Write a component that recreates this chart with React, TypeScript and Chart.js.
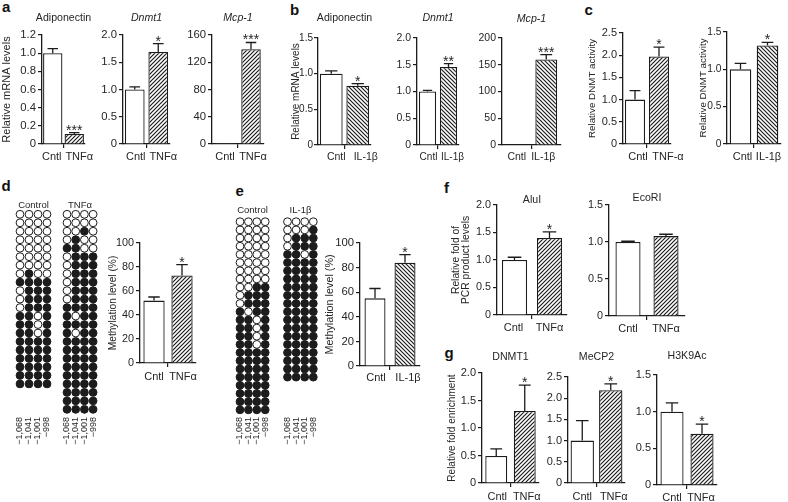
import React, { useEffect, useRef } from "react";
import { Chart, registerables } from "chart.js";

Chart.register(...registerables);

const FONT = "'Liberation Sans', Arial, Helvetica, sans-serif";
const INK = "#1c1c1c";
const TEXT = "#262626";

// ---------------- data ----------------
const CAT_TNF = ["Cntl", "TNFα"];
const CAT_TNF_DASH = ["Cntl", "TNF-α"];
const CAT_IL = ["Cntl", "IL-1β"];

const A_ADIPONECTIN = [1.0, 0.11];
const A_ADIPONECTIN_SEM = [0.05, 0.015];
const A_ADIPONECTIN_SIG = ["", "***"];
const A_DNMT1 = [1.0, 1.69];
const A_DNMT1_SEM = [0.05, 0.15];
const A_DNMT1_SIG = ["", "*"];
const A_MCP1 = [1.0, 139];
const A_MCP1_SEM = [0.4, 10];
const A_MCP1_SIG = ["", "***"];

const B_ADIPONECTIN = [1.0, 0.83];
const B_ADIPONECTIN_SEM = [0.04, 0.03];
const B_ADIPONECTIN_SIG = ["", "*"];
const B_DNMT1 = [1.0, 1.46];
const B_DNMT1_SEM = [0.02, 0.06];
const B_DNMT1_SIG = ["", "**"];
const B_MCP1 = [1.0, 160];
const B_MCP1_SEM = [0.4, 9];
const B_MCP1_SIG = ["", "***"];

const C_TNF = [1.0, 1.97];
const C_TNF_SEM = [0.2, 0.21];
const C_TNF_SIG = ["", "*"];
const C_IL = [1.0, 1.32];
const C_IL_SEM = [0.08, 0.04];
const C_IL_SIG = ["", "*"];

const D_METHYL = [52, 73];
const D_METHYL_SEM = [3, 9];
const D_METHYL_SIG = ["", "*"];
const E_METHYL = [55, 84];
const E_METHYL_SEM = [8, 6.5];
const E_METHYL_SIG = ["", "*"];

const F_ALUI = [1.0, 1.4];
const F_ALUI_SEM = [0.05, 0.11];
const F_ALUI_SIG = ["", "*"];
const F_ECORI = [1.0, 1.08];
const F_ECORI_SEM = [0.01, 0.025];
const F_ECORI_SIG = ["", ""];

const G_DNMT1 = [0.49, 1.31];
const G_DNMT1_SEM = [0.13, 0.47];
const G_DNMT1_SIG = ["", "*"];
const G_MECP2 = [1.0, 2.19];
const G_MECP2_SEM = [0.47, 0.15];
const G_MECP2_SIG = ["", "*"];
const G_H3K9AC = [1.0, 0.7];
const G_H3K9AC_SEM = [0.12, 0.13];
const G_H3K9AC_SIG = ["", "*"];

// bisulfite sequencing clones: 1 = methylated CpG, 0 = unmethylated
const CPG_SITES = ["−1,068", "−1,041", "−1,001", "−998"];
const D_CONTROL_CLONES = [
  "0000", "0000", "0000", "0000", "0000", "0000", "0000", "0100",
  "1111", "0111", "0111", "0111", "1101", "1101", "1101", "1111",
  "1111", "1111", "1111", "1111", "1111",
];
const D_TNF_CLONES = [
  "0000", "0000", "0010", "0100", "1100", "0111", "0111", "0111",
  "0111", "0111", "0111", "1111", "1011", "1111", "1011", "1111",
  "1111", "1111", "1111", "1111", "1111", "1111", "1111", "1111",
];
const E_CONTROL_CLONES = [
  "0000", "0000", "0000", "0000", "0000", "0000", "0000", "0000",
  "0011", "0111", "0111", "1011", "1101", "1101", "1101", "1101",
  "1111", "1111", "1111", "1111", "1111", "1111", "1111", "1111",
];
const E_IL_CLONES = [
  "0000", "0001", "0111", "0111", "1101", "1111", "1111", "1111",
  "1111", "1111", "1111", "1111", "1111", "1111", "1111", "1111",
  "1111", "1111", "1111", "1111",
];

// ---------------- layout specs ----------------
type BarSpec = {
  x0: number; x1: number; y0: number; y1: number;
  max: number; step: number; dec: number;
  labels: string[]; values: number[]; errors: number[]; stars: string[];
  hatch: "/" | "\\"; barFrac: number;
  title?: string; titleY?: number; italic?: boolean;
  yTitle?: string | string[]; yTitleX?: number; yTitleSize?: number; yTitleLH?: number;
  tickSize?: number; tickPad?: number; catSize?: number; shift?: number[]; labelDy?: number;
};

const BAR_PANELS: BarSpec[] = [
  { x0: 42, x1: 85, y0: 35, y1: 144, max: 1.2, step: 0.2, dec: 1, labels: CAT_TNF, values: A_ADIPONECTIN, errors: A_ADIPONECTIN_SEM, stars: A_ADIPONECTIN_SIG, hatch: "/", barFrac: 0.9, title: "Adiponectin", titleY: 18, yTitle: "Relative mRNA levels", yTitleX: 7, yTitleSize: 11, tickSize: 11.3, shift: [-1, 5] },
  { x0: 123, x1: 170, y0: 35, y1: 144, max: 2.0, step: 0.5, dec: 1, labels: CAT_TNF, values: A_DNMT1, errors: A_DNMT1_SEM, stars: A_DNMT1_SIG, hatch: "/", barFrac: 0.84, title: "Dnmt1", titleY: 18, italic: true, tickSize: 11.3, shift: [1, 5] },
  { x0: 212, x1: 264, y0: 35, y1: 144, max: 160, step: 40, dec: 0, labels: CAT_TNF, values: A_MCP1, errors: A_MCP1_SEM, stars: A_MCP1_SIG, hatch: "/", barFrac: 0.75, title: "Mcp-1", titleY: 18, italic: true, tickSize: 11.3, shift: [0, 2] },
  { x0: 318, x1: 371, y0: 38, y1: 145, max: 1.5, step: 0.5, dec: 1, labels: CAT_IL, values: B_ADIPONECTIN, errors: B_ADIPONECTIN_SEM, stars: B_ADIPONECTIN_SIG, hatch: "\\", barFrac: 0.86, title: "Adiponectin", titleY: 18, yTitle: "Relative mRNA levels", yTitleX: 296, yTitleSize: 10, tickSize: 10, tickPad: 1, catSize: 10.5, shift: [5, 8], labelDy: 12 },
  { x0: 417, x1: 459, y0: 38, y1: 145, max: 2.0, step: 0.5, dec: 1, labels: CAT_IL, values: B_DNMT1, errors: B_DNMT1_SEM, stars: B_DNMT1_SIG, hatch: "\\", barFrac: 0.82, title: "Dnmt1", titleY: 18, italic: true, tickSize: 10.5, catSize: 10, shift: [1, 4], labelDy: 12 },
  { x0: 502, x1: 561, y0: 38, y1: 145, max: 200, step: 50, dec: 0, labels: CAT_IL, values: B_MCP1, errors: B_MCP1_SEM, stars: B_MCP1_SIG, hatch: "\\", barFrac: 0.74, title: "Mcp-1", titleY: 19, italic: true, tickSize: 10.5, catSize: 10.5, shift: [0, -3], labelDy: 12 },
  { x0: 623, x1: 671, y0: 33, y1: 144, max: 2.5, step: 0.5, dec: 1, labels: CAT_TNF_DASH, values: C_TNF, errors: C_TNF_SEM, stars: C_TNF_SIG, hatch: "/", barFrac: 0.84, yTitle: "Relative DNMT activity", yTitleX: 592, yTitleSize: 9.8, tickSize: 11, shift: [3, 9] },
  { x0: 727, x1: 781, y0: 32, y1: 144, max: 1.5, step: 0.5, dec: 1, labels: CAT_IL, values: C_IL, errors: C_IL_SEM, stars: C_IL_SIG, hatch: "\\", barFrac: 0.8, yTitle: "Relative DNMT activity", yTitleX: 703, yTitleSize: 9.8, tickSize: 10.2, tickPad: 1.5, shift: [2, 1] },
  { x0: 140, x1: 196, y0: 243, y1: 363, max: 100, step: 20, dec: 0, labels: CAT_TNF, values: D_METHYL, errors: D_METHYL_SEM, stars: D_METHYL_SIG, hatch: "/", barFrac: 0.76, yTitle: "Methylation level (%)", yTitleX: 113, yTitleSize: 10.2, tickSize: 10.8, shift: [0, 1], labelDy: 14 },
  { x0: 360, x1: 420, y0: 243, y1: 366, max: 100, step: 20, dec: 0, labels: CAT_IL, values: E_METHYL, errors: E_METHYL_SEM, stars: E_METHYL_SIG, hatch: "\\", barFrac: 0.7, yTitle: "Methylation level (%)", yTitleX: 330, yTitleSize: 10.8, tickSize: 11.3, shift: [1, 3], labelDy: 12 },
  { x0: 497, x1: 567, y0: 205, y1: 315, max: 2.0, step: 0.5, dec: 1, labels: CAT_TNF, values: F_ALUI, errors: F_ALUI_SEM, stars: F_ALUI_SIG, hatch: "/", barFrac: 0.72, title: "AluI", titleY: 200, yTitle: ["Relative fold of", "PCR product levels"], yTitleX: 456, yTitleSize: 10.3, yTitleLH: 1.0, tickSize: 10.8, shift: [-1, 0] },
  { x0: 609, x1: 685, y0: 205, y1: 316, max: 1.5, step: 0.5, dec: 1, labels: CAT_TNF, values: F_ECORI, errors: F_ECORI_SEM, stars: F_ECORI_SIG, hatch: "/", barFrac: 0.66, title: "EcoRI", titleY: 198.5, tickSize: 10.8, shift: [0, 0] },
  { x0: 482, x1: 539, y0: 373, y1: 483, max: 2.0, step: 0.5, dec: 1, labels: CAT_TNF, values: G_DNMT1, errors: G_DNMT1_SEM, stars: G_DNMT1_SIG, hatch: "/", barFrac: 0.77, title: "DNMT1", titleY: 357.5, yTitle: "Relative fold enrichment", yTitleX: 452, yTitleSize: 10, tickSize: 11, shift: [1, 2], labelDy: 14 },
  { x0: 568, x1: 625, y0: 377, y1: 483, max: 2.5, step: 0.5, dec: 1, labels: CAT_TNF, values: G_MECP2, errors: G_MECP2_SEM, stars: G_MECP2_SIG, hatch: "/", barFrac: 0.82, title: "MeCP2", titleY: 357.5, tickSize: 11, shift: [0, 3], labelDy: 14 },
  { x0: 657, x1: 717, y0: 375, y1: 485, max: 1.5, step: 0.5, dec: 1, labels: CAT_TNF, values: G_H3K9AC, errors: G_H3K9AC_SEM, stars: G_H3K9AC_SIG, hatch: "/", barFrac: 0.77, title: "H3K9Ac", titleY: 356, tickSize: 11, shift: [0, -1], labelDy: 13 },
];

type DotSpec = {
  rows: string[]; x0: number; sx: number; y0: number; sy: number; rowsMax: number;
  title: string; titleY: number; labelTop: number;
};

const DOT_PANELS: DotSpec[] = [
  { rows: D_CONTROL_CLONES, x0: 20, sx: 9, y0: 214.3, sy: 8.48, rowsMax: 24, title: "Control", titleY: 205, labelTop: 417 },
  { rows: D_TNF_CLONES, x0: 67, sx: 8.7, y0: 214.3, sy: 8.48, rowsMax: 24, title: "TNFα", titleY: 205, labelTop: 417 },
  { rows: E_CONTROL_CLONES, x0: 240, sx: 8.4, y0: 221.7, sy: 8.18, rowsMax: 24, title: "Control", titleY: 210, labelTop: 417 },
  { rows: E_IL_CLONES, x0: 287.5, sx: 8.6, y0: 221.7, sy: 8.18, rowsMax: 24, title: "IL-1β", titleY: 210, labelTop: 417 },
];

const PANEL_LETTERS = [
  { t: "a", x: 2, y: -1.5 },
  { t: "b", x: 290, y: 2 },
  { t: "c", x: 584.5, y: 2 },
  { t: "d", x: 1.5, y: 178 },
  { t: "e", x: 235.5, y: 183 },
  { t: "f", x: 444, y: 180 },
  { t: "g", x: 444.5, y: 345 },
];

// ---------------- helpers ----------------
function makeHatch(dir: "/" | "\\"): CanvasPattern | string {
  const s = 4;
  const c = document.createElement("canvas");
  c.width = s;
  c.height = s;
  const g = c.getContext("2d");
  if (!g) return "#888";
  g.fillStyle = "#ffffff";
  g.fillRect(0, 0, s, s);
  g.strokeStyle = INK;
  g.lineWidth = 1.2;
  g.beginPath();
  if (dir === "/") {
    g.moveTo(-1, s + 1); g.lineTo(s + 1, -1);
    g.moveTo(-1, 1); g.lineTo(1, -1);
    g.moveTo(s - 1, s + 1); g.lineTo(s + 1, s - 1);
  } else {
    g.moveTo(-1, -1); g.lineTo(s + 1, s + 1);
    g.moveTo(s - 1, -1); g.lineTo(s + 1, 1);
    g.moveTo(-1, s - 1); g.lineTo(1, s + 1);
  }
  g.stroke();
  return g.createPattern(c, "repeat") || "#888";
}

function errorBarPlugin(values: number[], errors: number[], stars: string[]) {
  return {
    id: "errorBars",
    afterDatasetsDraw(chart: any) {
      const meta = chart.getDatasetMeta(0);
      const ys = chart.scales.y;
      const ctx = chart.ctx as CanvasRenderingContext2D;
      ctx.save();
      ctx.strokeStyle = INK;
      ctx.lineWidth = 1.3;
      ctx.fillStyle = TEXT;
      ctx.font = `14px ${FONT}`;
      ctx.textAlign = "center";
      ctx.textBaseline = "alphabetic";
      meta.data.forEach((el: any, i: number) => {
        const x = el.x;
        const half = el.width * 0.27;
        const yv = ys.getPixelForValue(values[i]);
        const ye = ys.getPixelForValue(values[i] + errors[i]);
        if (errors[i] > 0 && yv - ye > 0.6) {
          ctx.beginPath();
          ctx.moveTo(x, yv);
          ctx.lineTo(x, ye);
          ctx.moveTo(x - half, ye);
          ctx.lineTo(x + half, ye);
          ctx.stroke();
        }
        if (stars[i]) ctx.fillText(stars[i], x, ye + 2);
      });
      ctx.restore();
    },
  };
}

function BarPanel({ s }: { s: BarSpec }) {
  const ref = useRef<HTMLCanvasElement | null>(null);
  const tickSize = s.tickSize ?? 10.5;
  const catSize = s.catSize ?? 11;
  const canvasLeft = s.yTitle ? Math.round((s.yTitleX as number) - 7) : s.x0 - 26;
  const L = s.x0 - canvasLeft;
  const w = s.x1 - s.x0;
  const W = 2 * L + w;
  const canvasTop = s.title ? Math.round((s.titleY as number) - 7) : s.y0 - 10;
  const T = s.y0 - canvasTop;
  const B = 26;
  const H = T + (s.y1 - s.y0) + B;

  useEffect(() => {
    if (!ref.current) return;
    const pattern = makeHatch(s.hatch);
    const padTop = s.title ? (s.titleY as number) - 5 - canvasTop : 0;
    const padBottom = s.title ? Math.max(0, T - padTop - 10) : 0;
    const ytSize = s.yTitleSize ?? 10.5;
    const ytLH = s.yTitleLH ?? 1.2;
    const ytPad = Math.max(0, 7 - (ytSize * ytLH) / 2);
    const catW = w / s.labels.length;
    const shift = s.shift ?? [0, 0];
    const labelDy = s.labelDy ?? 13;
    const catLH = catSize * 1.2;
    const tickLen = 4;
    const chart = new Chart(ref.current, {
      type: "bar",
      data: {
        labels: s.labels,
        datasets: [
          {
            data: s.values,
            backgroundColor: ["#ffffff", pattern as any],
            borderColor: INK,
            borderWidth: 1.3,
            borderSkipped: "start",
            categoryPercentage: 1,
            barPercentage: s.barFrac,
          },
        ],
      },
      options: {
        animation: false,
        responsive: false,
        devicePixelRatio: 1,
        events: [],
        layout: { padding: { left: 0, right: 0, top: s.title ? 0 : T, bottom: 0 } },
        plugins: {
          legend: { display: false },
          tooltip: { enabled: false },
          title: s.title
            ? {
                display: true,
                text: s.title,
                color: TEXT,
                font: { family: FONT, size: 10.6, style: s.italic ? "italic" : "normal", weight: "normal", lineHeight: 10 / 10.6 },
                padding: { top: padTop, bottom: padBottom },
              }
            : { display: false },
        },
        scales: {
          x: {
            type: "category",
            offset: true,
            weight: 0,
            afterFit: (sc: any) => { sc.height = tickLen; },
            grid: {
              display: true,
              offset: true,
              drawOnChartArea: false,
              drawTicks: true,
              tickLength: tickLen,
              lineWidth: 1.2,
              color: (ctx: any) => (ctx.index === 1 ? INK : "rgba(0,0,0,0)"),
            },
            border: { display: true, color: INK, width: 1.3 },
            ticks: { display: false },
          },
          xLabels: {
            type: "linear",
            position: "bottom",
            weight: 1,
            offset: false,
            min: 0,
            max: s.labels.length,
            afterBuildTicks: (sc: any) => {
              sc.ticks = s.labels.map((_, i) => ({ value: i + 0.5 + (shift[i] ?? 0) / catW }));
            },
            afterFit: (sc: any) => { sc.height = B - tickLen; },
            grid: { display: false, drawTicks: false, offset: false },
            border: { display: false },
            ticks: {
              autoSkip: false,
              maxRotation: 0,
              minRotation: 0,
              padding: labelDy - tickLen - catLH / 2,
              color: TEXT,
              font: { family: FONT, size: catSize, lineHeight: 1.2 },
              callback: (_v: any, i: number) => s.labels[i],
            },
          },
          y: {
            type: "linear",
            position: "left",
            min: 0,
            max: s.max,
            afterFit: (sc: any) => { sc.width = L; },
            grid: { display: true, drawOnChartArea: false, drawTicks: true, tickLength: 4, lineWidth: 1.2, color: INK },
            border: { display: true, color: INK, width: 1.3 },
            ticks: {
              stepSize: s.step,
              color: TEXT,
              padding: s.tickPad ?? 2,
              font: { family: FONT, size: tickSize },
              callback: (v: any) => (Math.abs(v) < 1e-9 ? "0" : Number(v).toFixed(s.dec)),
            },
            title: s.yTitle
              ? {
                  display: true,
                  text: s.yTitle,
                  color: TEXT,
                  font: { family: FONT, size: ytSize, lineHeight: ytLH },
                  padding: { top: ytPad, bottom: 0 },
                }
              : { display: false },
          },
          yRight: {
            type: "linear",
            position: "right",
            afterFit: (sc: any) => { sc.width = L; },
            grid: { display: false, drawTicks: false },
            border: { display: false },
            ticks: { display: false },
          },
        },
      } as any,
      plugins: [errorBarPlugin(s.values, s.errors, s.stars) as any],
    });
    return () => chart.destroy();
  }, []);

  return (
    <canvas
      ref={ref}
      width={W}
      height={H}
      style={{ position: "absolute", left: canvasLeft, top: canvasTop, width: W, height: H }}
    />
  );
}

function DotPanel({ s }: { s: DotSpec }) {
  const ref = useRef<HTMLCanvasElement | null>(null);
  const cols = s.rows[0].length;
  const areaL = s.x0 - s.sx / 2;
  const areaT = s.y0 - s.sy / 2;
  const areaW = cols * s.sx;
  const areaH = s.rowsMax * s.sy;
  const M = 16;
  const canvasLeft = Math.round(areaL - M);
  const ML = areaL - canvasLeft;
  const W = Math.round(2 * ML + areaW);
  const MR = W - ML - areaW;
  const canvasTop = Math.floor(s.titleY - 7);
  const topBand = areaT - canvasTop;
  const H = Math.ceil(topBand + areaH + 42);
  const xAxisH = H - topBand - areaH;

  useEffect(() => {
    if (!ref.current) return;
    const pts: { x: number; y: number; m: boolean }[] = [];
    s.rows.forEach((r, ri) => {
      r.split("").forEach((c, ci) => pts.push({ x: ci, y: ri, m: c === "1" }));
    });
    const padTop = s.titleY - 5 - canvasTop;
    const padBottom = Math.max(0, topBand - padTop - 10);
    const chart = new Chart(ref.current, {
      type: "scatter",
      data: {
        datasets: [
          {
            data: pts.map((p) => ({ x: p.x, y: p.y })),
            pointRadius: 3.9,
            pointBorderWidth: 1,
            pointBorderColor: INK,
            pointBackgroundColor: pts.map((p) => (p.m ? INK : "#ffffff")),
            clip: false as any,
            showLine: false,
          },
        ],
      },
      options: {
        animation: false,
        responsive: false,
        devicePixelRatio: 1,
        events: [],
        layout: { padding: 0 },
        plugins: {
          legend: { display: false },
          tooltip: { enabled: false },
          title: {
            display: true,
            text: s.title,
            color: TEXT,
            font: { family: FONT, size: 9.5, weight: "normal", lineHeight: 10 / 9.5 },
            padding: { top: padTop, bottom: padBottom },
          },
        },
        scales: {
          x: {
            type: "linear",
            min: -0.5,
            max: cols - 0.5,
            offset: false,
            afterBuildTicks: (sc: any) => {
              sc.ticks = CPG_SITES.slice(0, cols).map((_, i) => ({ value: i }));
            },
            afterFit: (sc: any) => { sc.height = xAxisH; },
            grid: { display: false, drawTicks: false },
            border: { display: false },
            ticks: {
              autoSkip: false,
              minRotation: 90,
              maxRotation: 90,
              padding: s.labelTop - (areaT + areaH),
              color: TEXT,
              font: { family: FONT, size: 9 },
              callback: (v: any) => CPG_SITES[Math.round(Number(v))],
            },
          },
          y: {
            type: "linear",
            position: "left",
            reverse: true,
            min: -0.5,
            max: s.rowsMax - 0.5,
            afterFit: (sc: any) => { sc.width = ML; },
            grid: { display: false, drawTicks: false },
            border: { display: false },
            ticks: { display: false },
          },
          yRight: {
            type: "linear",
            position: "right",
            afterFit: (sc: any) => { sc.width = MR; },
            grid: { display: false, drawTicks: false },
            border: { display: false },
            ticks: { display: false },
          },
        },
      } as any,
    });
    return () => chart.destroy();
  }, []);

  return (
    <canvas
      ref={ref}
      width={W}
      height={H}
      style={{ position: "absolute", left: canvasLeft, top: canvasTop, width: W, height: H }}
    />
  );
}

export default function App() {
  return (
    <div
      style={{
        position: "fixed",
        left: 0,
        top: 0,
        width: 788,
        height: 502,
        background: "#ffffff",
        overflow: "hidden",
        fontFamily: FONT,
      }}
    >
      {PANEL_LETTERS.map((p) => (
        <div
          key={p.t}
          style={{
            position: "absolute",
            left: p.x,
            top: p.y,
            fontFamily: FONT,
            fontWeight: "bold",
            fontSize: 15,
            lineHeight: "15px",
            color: "#111",
          }}
        >
          {p.t}
        </div>
      ))}
      {DOT_PANELS.map((d, i) => (
        <DotPanel key={"dot" + i} s={d} />
      ))}
      {BAR_PANELS.map((b, i) => (
        <BarPanel key={"bar" + i} s={b} />
      ))}
    </div>
  );
}
